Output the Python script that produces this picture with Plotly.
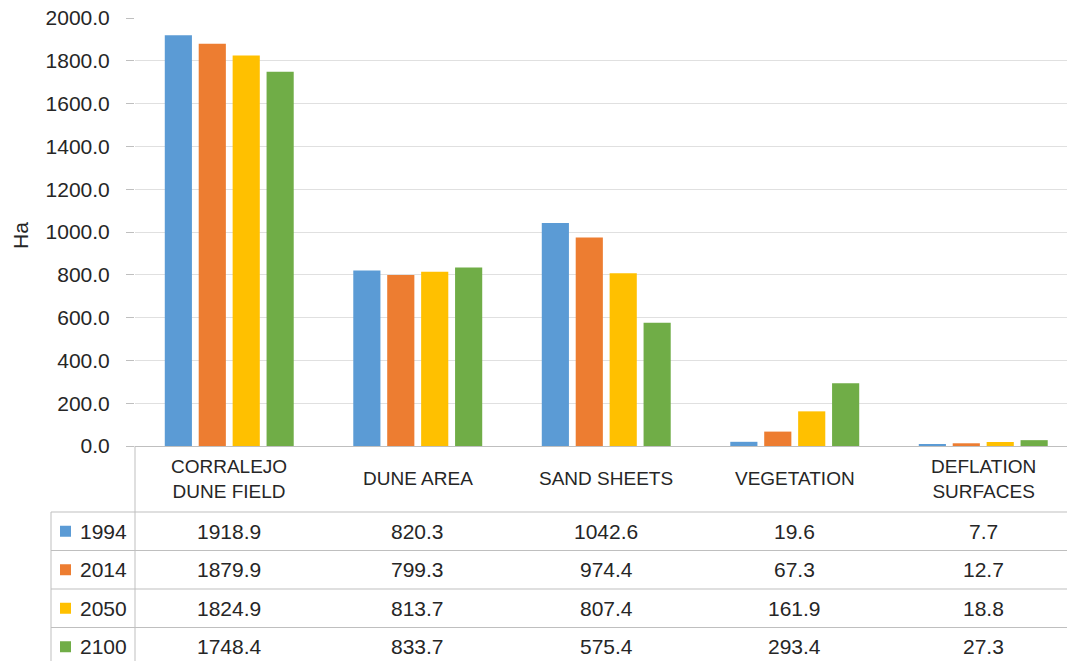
import plotly.graph_objects as go

# Land-cover areas (ha) for the Corralejo dune system
categories = ["CORRALEJO<br>DUNE FIELD", "DUNE AREA", "SAND SHEETS", "VEGETATION", "DEFLATION<br>SURFACES"]
years = ["1994", "2014", "2050", "2100"]
values_1994 = [1918.9, 820.3, 1042.6, 19.6, 7.7]
values_2014 = [1879.9, 799.3, 974.4, 67.3, 12.7]
values_2050 = [1824.9, 813.7, 807.4, 161.9, 18.8]
values_2100 = [1748.4, 833.7, 575.4, 293.4, 27.3]
series = [values_1994, values_2014, values_2050, values_2100]
colors = ["#5B9BD5", "#ED7D31", "#FFC000", "#70AD47"]

W, H = 1067, 661
L, T, B = 135, 18, 215          # plot margins in px
PLOT_W = W - L
PLOT_H = H - T - B
FONT = "Liberation Sans"
TXT = "#262626"
LINE = "#bfbfbf"
NUM_SIZE = 21
CAT_SIZE = 19


def px_x(p):
    return (p - L) / PLOT_W


def px_y(p):
    return (H - B - p) / PLOT_H


xs = list(range(len(categories)))

fig = go.Figure()
for name, vals, col in zip(years, series, colors):
    fig.add_trace(go.Bar(x=xs, y=vals, name=name, marker=dict(color=col, line=dict(width=0))))

# data table below the axis
row_h = 38.5
table_top = 512
row_centers = [table_top + row_h * (i + 0.5) for i in range(len(years))]

shapes = []
annotations = []

# horizontal table rules
for i in range(len(years)):
    y = px_y(table_top + row_h * i)
    shapes.append(dict(type="line", xref="paper", yref="paper", x0=px_x(51), x1=1, y0=y, y1=y,
                       line=dict(color=LINE, width=1)))
# vertical rules
shapes.append(dict(type="line", xref="paper", yref="paper", x0=0, x1=0, y0=0, y1=px_y(H),
                   line=dict(color=LINE, width=1)))
shapes.append(dict(type="line", xref="paper", yref="paper", x0=px_x(51), x1=px_x(51),
                   y0=px_y(table_top), y1=px_y(H), line=dict(color=LINE, width=1)))

# category labels
for xi, cat in zip(xs, categories):
    annotations.append(dict(x=xi, y=px_y(479), xref="x", yref="paper", text=cat, showarrow=False,
                            xanchor="center", yanchor="middle",
                            font=dict(family=FONT, size=CAT_SIZE, color=TXT)))

# legend keys + values
for yr, vals, col, yc in zip(years, series, colors, row_centers):
    shapes.append(dict(type="rect", xref="paper", yref="paper", x0=px_x(60), x1=px_x(71),
                       y0=px_y(yc - 5.5), y1=px_y(yc + 5.5), fillcolor=col, line=dict(width=0)))
    annotations.append(dict(x=px_x(78), y=px_y(yc), xref="paper", yref="paper", text=yr, showarrow=False,
                            xanchor="left", yanchor="middle",
                            font=dict(family=FONT, size=NUM_SIZE, color=TXT)))
    for xi, v in zip(xs, vals):
        annotations.append(dict(x=xi, y=px_y(yc), xref="x", yref="paper", text=f"{v:.1f}", showarrow=False,
                                xanchor="center", yanchor="middle",
                                font=dict(family=FONT, size=NUM_SIZE, color=TXT)))

# axis title
annotations.append(dict(x=px_x(20), y=px_y(236), xref="paper", yref="paper", text="Ha", textangle=-90,
                        showarrow=False, xanchor="center", yanchor="middle",
                        font=dict(family=FONT, size=NUM_SIZE, color=TXT)))

fig.update_layout(
    width=W, height=H,
    margin=dict(l=L, r=0, t=T, b=B, pad=0),
    paper_bgcolor="white", plot_bgcolor="white",
    barmode="group", bargap=0.28, bargroupgap=0.2,
    showlegend=False,
    shapes=shapes, annotations=annotations,
    xaxis=dict(range=[-0.5, -0.5 + PLOT_W / 188.5], showticklabels=False, showgrid=False,
               zeroline=False, showline=False, ticks=""),
    yaxis=dict(range=[0, 2000], dtick=200, tickformat=".1f", showgrid=True, gridcolor="#e0e0e0",
               gridwidth=1, zeroline=True, zerolinecolor=LINE, zerolinewidth=1,
               showline=False, ticks="outside", ticklen=8, tickcolor=LINE,
               ticklabelstandoff=12,
               tickfont=dict(family=FONT, size=NUM_SIZE, color=TXT)),
)

fig.write_html("out.html")
